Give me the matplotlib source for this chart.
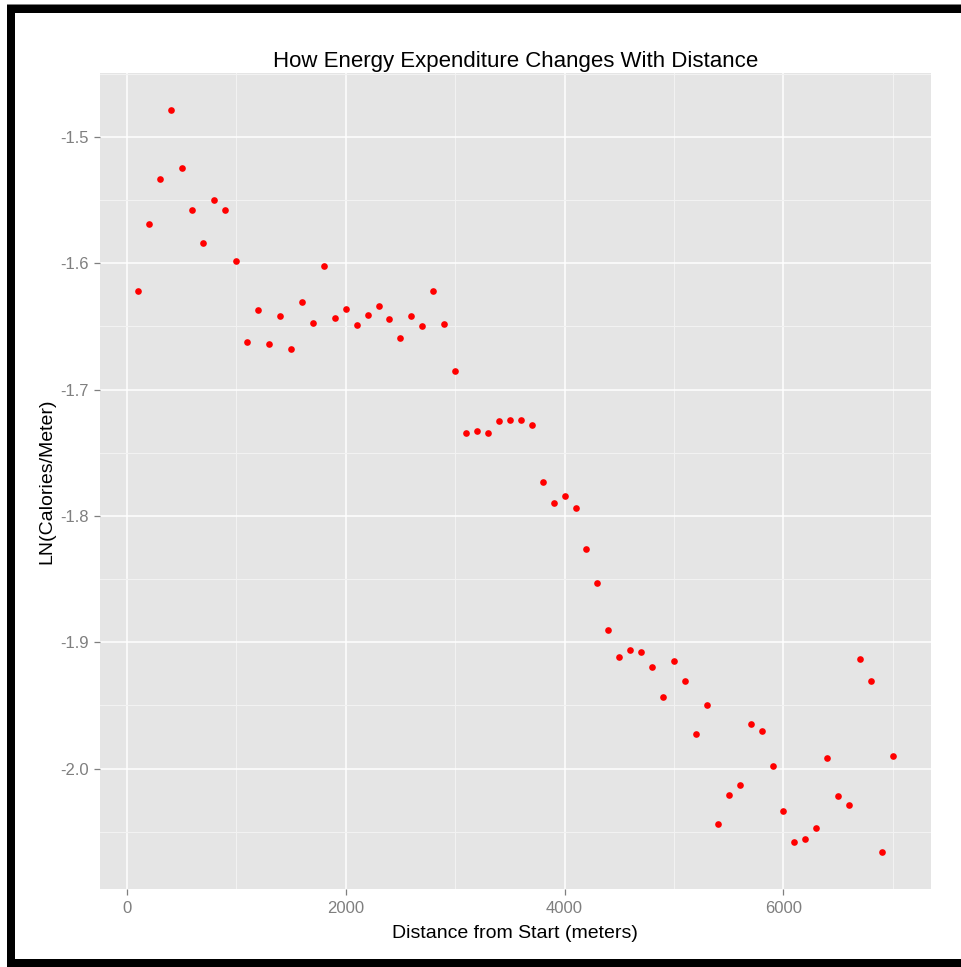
import matplotlib
matplotlib.use("Agg")
import matplotlib.pyplot as plt
from matplotlib.patches import Rectangle
from matplotlib.ticker import FixedLocator

plt.rcParams["font.family"] = ["Liberation Sans", "DejaVu Sans"]

# Distance from start (m) and log energy cost per metre
distance = [100, 200, 300, 400, 500, 600, 700, 800, 900, 1000,
            1100, 1200, 1300, 1400, 1500, 1600, 1700, 1800, 1900, 2000,
            2100, 2200, 2300, 2400, 2500, 2600, 2700, 2800, 2900, 3000,
            3100, 3200, 3300, 3400, 3500, 3600, 3700, 3800, 3900, 4000,
            4100, 4200, 4300, 4400, 4500, 4600, 4700, 4800, 4900, 5000,
            5100, 5200, 5300, 5400, 5500, 5600, 5700, 5800, 5900, 6000,
            6100, 6200, 6300, 6400, 6500, 6600, 6700, 6800, 6900, 7000]
ln_cal_per_m = [-1.622, -1.569, -1.533, -1.479, -1.525, -1.558, -1.584, -1.550, -1.558, -1.598,
                -1.662, -1.637, -1.664, -1.642, -1.668, -1.631, -1.647, -1.602, -1.643, -1.636,
                -1.649, -1.641, -1.634, -1.644, -1.659, -1.642, -1.650, -1.622, -1.648, -1.685,
                -1.734, -1.733, -1.734, -1.725, -1.724, -1.724, -1.728, -1.773, -1.790, -1.784,
                -1.794, -1.826, -1.853, -1.890, -1.912, -1.906, -1.908, -1.920, -1.943, -1.915,
                -1.931, -1.973, -1.950, -2.044, -2.021, -2.013, -1.965, -1.970, -1.998, -2.034,
                -2.058, -2.056, -2.047, -1.992, -2.022, -2.029, -1.913, -1.931, -2.066, -1.990]

x_major = [0, 2000, 4000, 6000]
x_minor = [1000, 3000, 5000, 7000]
y_major = [-2.0, -1.9, -1.8, -1.7, -1.6, -1.5]
y_minor = [-2.05, -1.95, -1.85, -1.75, -1.65, -1.55, -1.45]
y_labels = ["-2.0", "-1.9", "-1.8", "-1.7", "-1.6", "-1.5"]

title = "How Energy Expenditure Changes With Distance"
xlab = "Distance from Start (meters)"
ylab = "LN(Calories/Meter)"

W, H = 961, 967
fig = plt.figure(figsize=(W / 100, H / 100), dpi=100)


def px_rect(x0, y0, x1, y1):
    """Rectangle given in pixel coordinates measured from the top-left."""
    return [x0 / W, 1 - y1 / H, (x1 - x0) / W, (y1 - y0) / H]


# plotting panel
left, top, right, bottom = 100, 73.3, 930.7, 889
ax = fig.add_axes(px_rect(left, top, right, bottom))
ax.set_facecolor("#E5E5E5")
for s in ax.spines.values():
    s.set_visible(False)

# 5% expansion around the data range
xr = max(distance) - min(distance)
yr = max(ln_cal_per_m) - min(ln_cal_per_m)
ax.set_xlim(min(distance) - 0.05 * xr, max(distance) + 0.05 * xr)
ax.set_ylim(min(ln_cal_per_m) - 0.05 * yr, max(ln_cal_per_m) + 0.05 * yr)

ax.xaxis.set_major_locator(FixedLocator(x_major))
ax.xaxis.set_minor_locator(FixedLocator(x_minor))
ax.yaxis.set_major_locator(FixedLocator(y_major))
ax.yaxis.set_minor_locator(FixedLocator(y_minor))
ax.set_yticklabels(y_labels)

ax.grid(which="minor", color="#F2F2F2", linewidth=0.8)
ax.grid(which="major", color="white", linewidth=1.1)
ax.set_axisbelow(True)

ax.tick_params(which="major", length=4.3, width=0.9, color="#7F7F7F",
               labelcolor="#7F7F7F", labelsize=12)
ax.tick_params(axis="x", which="major", pad=4.3)
ax.tick_params(axis="y", which="major", pad=3.6)
ax.tick_params(which="minor", length=0)

ax.plot(distance, ln_cal_per_m, linestyle="none", marker="o",
        markersize=4.8, markerfacecolor="#FF0000", markeredgewidth=0)

# titles
cx = (left + right) / 2
fig.text(cx / W, 1 - 67.3 / H, title, ha="center", va="baseline",
         fontsize=16, color="black")
fig.text(cx / W, 1 - 938 / H, xlab, ha="center", va="baseline",
         fontsize=14, color="black")
fig.text(47 / W, 1 - ((top + bottom) / 2) / H, ylab, ha="center", va="center",
         rotation=90, fontsize=14, color="black")

# black frame around the figure
for rect, col in [((7, 4, W, 5), "#808080"),
                  ((7, 5, W, 13), "black"),
                  ((7, 5, 15, H), "black"),
                  ((7, 959, W, H), "black")]:
    x0, y0, x1, y1 = rect
    r = px_rect(x0, y0, x1, y1)
    fig.add_artist(Rectangle((r[0], r[1]), r[2], r[3], transform=fig.transFigure,
                             facecolor=col, edgecolor="none"))

fig.savefig("out.png", dpi=100, facecolor="white")
